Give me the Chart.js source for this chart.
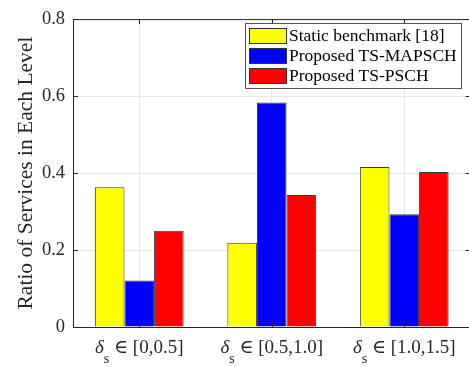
<!DOCTYPE html>
<html>
<head>
<meta charset="utf-8">
<script src="https://cdn.jsdelivr.net/npm/chart.js@4/dist/chart.umd.min.js"></script>
<style>
  html, body { margin: 0; padding: 0; background: #fff; overflow: hidden; }
  #wrap { width: 475px; height: 367px; }
</style>
</head>
<body>
<div id="wrap"><canvas id="chart"></canvas></div>
<script>
// data
const categories = ['[0,0.5]', '[0.5,1.0]', '[1.0,1.5]'];
const seriesNames = ['Static benchmark [18]', 'Proposed TS-MAPSCH', 'Proposed TS-PSCH'];
const staticVals = [0.363, 0.219, 0.416];
const mapschVals = [0.121, 0.583, 0.293];
const pschVals = [0.250, 0.343, 0.403];
const yTicks = [0, 0.2, 0.4, 0.6, 0.8];

const serif = '"Liberation Serif", "DejaVu Serif", serif';
const ink = '#262626';

// frame, inward ticks, legend box and x labels (with subscript)
const decor = {
  id: 'decor',
  afterDraw(chart) {
    const { ctx, chartArea: a, scales } = chart;
    ctx.save();
    ctx.strokeStyle = ink;
    ctx.lineWidth = 1;
    ctx.strokeRect(a.left + 0.5, a.top + 0.5, a.right - a.left, a.bottom - a.top);

    ctx.beginPath();
    yTicks.forEach(v => {
      const y = Math.round(scales.y.getPixelForValue(v)) + 0.5;
      ctx.moveTo(a.left, y); ctx.lineTo(a.left + 5, y);
      ctx.moveTo(a.right, y); ctx.lineTo(a.right - 5, y);
    });
    categories.forEach((c, i) => {
      const x = Math.round(scales.x.getPixelForValue(i)) + 0.5;
      ctx.moveTo(x, a.bottom); ctx.lineTo(x, a.bottom - 5);
      ctx.moveTo(x, a.top); ctx.lineTo(x, a.top + 5);
    });
    ctx.stroke();

    // x labels: δ_s ∈ [..]
    ctx.fillStyle = ink;
    ctx.textBaseline = 'alphabetic';
    categories.forEach((c, i) => {
      const cx = scales.x.getPixelForValue(i);
      const base = 353;
      ctx.font = 'italic 19px ' + serif;
      const wd = ctx.measureText('δ').width;
      ctx.font = '14px ' + serif;
      const ws = ctx.measureText('s').width;
      ctx.font = '19px ' + serif;
      const rest = ' \u2208 ' + c;
      const wr = ctx.measureText(rest).width;
      let x = cx - (wd + ws + wr) / 2;
      ctx.textAlign = 'left';
      ctx.font = 'italic 19px ' + serif;
      ctx.fillText('δ', x, base);
      x += wd;
      ctx.font = '14px ' + serif;
      ctx.fillText('s', x, base + 10);
      x += ws;
      ctx.font = '19px ' + serif;
      ctx.fillText(rest, x, base);
    });

    // legend
    const lx = 245, ly = 23, lw = 216, lh = 65;
    ctx.fillStyle = '#fff';
    ctx.fillRect(lx, ly, lw, lh);
    ctx.strokeStyle = '#555';
    ctx.strokeRect(lx + 0.5, ly + 0.5, lw, lh);
    chart.data.datasets.forEach((ds, i) => {
      const ry = 28 + i * 20;
      ctx.fillStyle = ds.backgroundColor;
      ctx.fillRect(249, ry, 37, 15);
      ctx.strokeStyle = '#333';
      ctx.strokeRect(249.5, ry + 0.5, 37, 15);
      ctx.fillStyle = '#000';
      ctx.font = '17.5px ' + serif;
      ctx.textAlign = 'left';
      ctx.textBaseline = 'middle';
      ctx.fillText(ds.label, 289, ry + 8);
    });
    ctx.restore();
  }
};

const ctx = document.getElementById('chart').getContext('2d');
new Chart(ctx, {
  type: 'bar',
  data: {
    labels: categories,
    datasets: [
      { label: seriesNames[0], data: staticVals, backgroundColor: '#ffff00' },
      { label: seriesNames[1], data: mapschVals, backgroundColor: '#0000ff' },
      { label: seriesNames[2], data: pschVals, backgroundColor: '#ff0000' },
    ].map(d => Object.assign(d, {
      borderColor: '#3c3c3c', borderWidth: 1,
      categoryPercentage: 0.67, barPercentage: 1.0,
    })),
  },
  options: {
    responsive: true,
    maintainAspectRatio: false,
    animation: false,
    layout: { padding: { top: 14, right: 4.5, left: 0, bottom: 0 } },
    plugins: { legend: { display: false }, tooltip: { enabled: false } },
    scales: {
      x: {
        offset: true,
        grid: { offset: false, color: '#e6e6e6', drawTicks: false },
        border: { display: false },
        ticks: { display: false },
        afterFit: s => { s.height = 40; },
      },
      y: {
        min: 0, max: 0.8,
        afterBuildTicks: s => { s.ticks = yTicks.map(v => ({ value: v })); },
        grid: { color: '#e6e6e6', drawTicks: false },
        border: { display: false },
        ticks: {
          padding: 8,
          color: ink,
          font: { family: serif, size: 18.5 },
          callback: v => v === 0 ? '0' : v.toFixed(1),
        },
        title: {
          display: true,
          text: 'Ratio of Services in Each Level',
          color: ink,
          font: { family: serif, size: 21.5 },
          padding: { top: 13, bottom: 0 },
        },
        afterFit: s => { s.width = 73; },
      },
    },
  },
  plugins: [decor],
});
</script>
</body>
</html>
